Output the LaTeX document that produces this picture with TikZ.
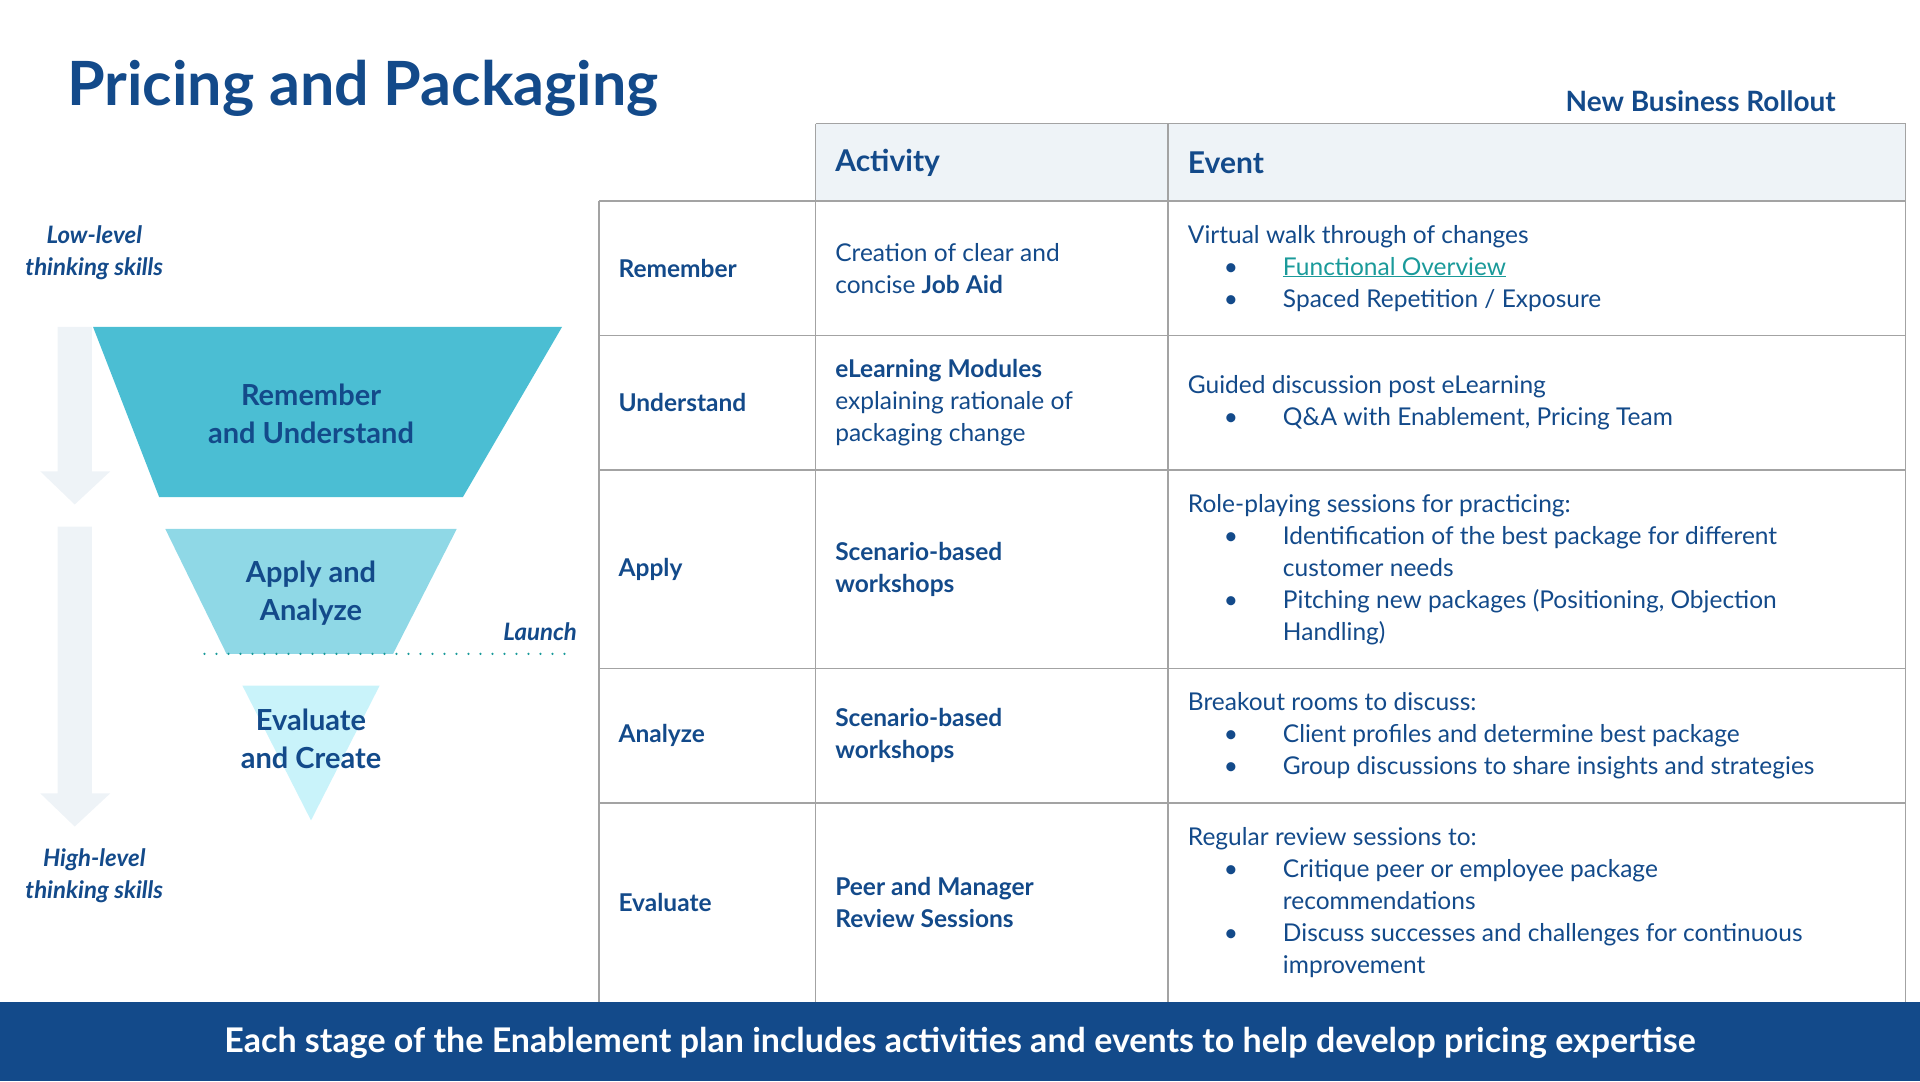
\documentclass[tikz,border=0pt]{standalone}
\usepackage{fontspec}
\setmainfont{Lato}
\usetikzlibrary{positioning,calc}
\definecolor{ppnavy}{HTML}{134A8A}
\definecolor{ppteal}{HTML}{4BBED3}
\definecolor{ppaqua}{HTML}{8FD8E6}
\definecolor{ppice}{HTML}{C9F3FA}
\definecolor{ppmist}{HTML}{EEF3F7}
\definecolor{ppgrid}{HTML}{A3A3A3}
\definecolor{pplink}{HTML}{1A9A9A}
\newcommand\bul{\makebox[95pt][l]{\hspace{36pt}\textbullet}}
\newcommand\ind{\hspace*{95pt}}
\tikzset{
  cell/.style={anchor=west, align=left, text=ppnavy, inner sep=0pt, font=\fontsize{24.5}{32}\selectfont},
  stage/.style={align=center, text=ppnavy, font=\fontsize{29}{38}\selectfont\bfseries},
  side/.style={align=center, text=ppnavy, font=\fontsize{24}{32}\selectfont\bfseries\itshape},
  grid/.style={ppgrid, line width=1.6pt}
}
\begin{document}
\begin{tikzpicture}[x=1.2245pt, y=-1.2245pt]
    \useasboundingbox (0,0) rectangle (1568,883);
    % Title
    \node[anchor=west, text=ppnavy, font=\fontsize{61}{70}\selectfont\bfseries] (title) at (52,72) {Pricing and Packaging};
    \node[anchor=east, text=ppnavy, font=\fontsize{28}{34}\selectfont\bfseries] (rollout) at (1502,83) {New Business Rollout};

    % Table
    \fill[ppmist] (666,101) rectangle (1556,164);
    \draw[grid] (666,101) -- (1556,101) -- (1556,818);
    \draw[grid] (666,101) -- (666,818);
    \draw[grid] (954,101) -- (954,818);
    \draw[grid] (489,164) -- (489,818);
    \foreach \y in {164,274,384,546,656}
        \draw[grid] (489,\y) -- (1556,\y);
    \node[cell, font=\fontsize{30}{36}\selectfont\bfseries] (hact) at (682,133) {Activity};
    \node[cell, font=\fontsize{30}{36}\selectfont\bfseries] (hev) at (970,133) {Event};

    % Row labels
    \foreach \y/\l in {219/Remember, 329/Understand, 465/Apply, 601/Analyze, 737/Evaluate}
        \node[cell, font=\fontsize{24.5}{32}\selectfont\bfseries] at (505,\y) {\l};

    % Activities
    \node[cell] (a1) at (682,219) {Creation of clear and\\concise \textbf{Job Aid}};
    \node[cell] (a2) at (682,329) {\textbf{eLearning Modules}\\explaining rationale of\\packaging change};
    \node[cell, font=\fontsize{24.5}{32}\selectfont\bfseries] (a3) at (682,465) {Scenario-based\\workshops};
    \node[cell, font=\fontsize{24.5}{32}\selectfont\bfseries] (a4) at (682,601) {Scenario-based\\workshops};
    \node[cell, font=\fontsize{24.5}{32}\selectfont\bfseries] (a5) at (682,737) {Peer and Manager\\Review Sessions};

    % Events
    \node[cell] (e1) at (970,219) {Virtual walk through of changes\\
        \bul\textcolor{pplink}{\underline{Functional Overview}}\\
        \bul Spaced Repetition / Exposure};
    \node[cell] (e2) at (970,329) {Guided discussion post eLearning\\
        \bul Q\&A with Enablement, Pricing Team};
    \node[cell] (e3) at (970,465) {Role-playing sessions for practicing:\\
        \bul Identification of the best package for different\\
        \ind customer needs\\
        \bul Pitching new packages (Positioning, Objection\\
        \ind Handling)};
    \node[cell] (e4) at (970,601) {Breakout rooms to discuss:\\
        \bul Client profiles and determine best package\\
        \bul Group discussions to share insights and strategies};
    \node[cell] (e5) at (970,737) {Regular review sessions to:\\
        \bul Critique peer or employee package\\
        \ind recommendations\\
        \bul Discuss successes and challenges for continuous\\
        \ind improvement};

    % Thinking arrows
    \fill[ppmist] (47,267) -- (75,267) -- (75,385) -- (90,385) -- (61,412) -- (33,385) -- (47,385) -- cycle;
    \fill[ppmist] (47,430) -- (75,430) -- (75,648) -- (90,648) -- (61,675) -- (33,648) -- (47,648) -- cycle;
    \node[side] (low) at (77,206) {Low-level\\thinking skills};
    \node[side] (high) at (77,715) {High-level\\thinking skills};

    % Funnel
    \fill[ppteal] (76,267) -- (459,267) -- (378,406) -- (130,406) -- cycle;
    \fill[ppaqua] (135,432) -- (373,432) -- (321,534) -- (185,534) -- cycle;
    \fill[ppice] (198,560) -- (310,560) -- (254,670) -- cycle;
    \node[stage] (s1) at (254,338) {Remember\\and Understand};
    \node[stage] (s2) at (254,484) {Apply and\\Analyze};
    \node[stage] (s3) at (254,603) {Evaluate\\and Create};
    \draw[pplink, line width=2.5pt, dash pattern=on 0pt off 12pt, line cap=round] (167,534) -- (470,534);
    \node[side, anchor=east] (launch) at (474,516) {Launch};

    % Footer
    \fill[ppnavy] (0,818) rectangle (1568,883);
    \node[text=white, font=\fontsize{34}{40}\selectfont\bfseries] (foot) at (784,852) {Each stage of the Enablement plan includes activities and events to help develop pricing expertise};
\end{tikzpicture}
\end{document}
